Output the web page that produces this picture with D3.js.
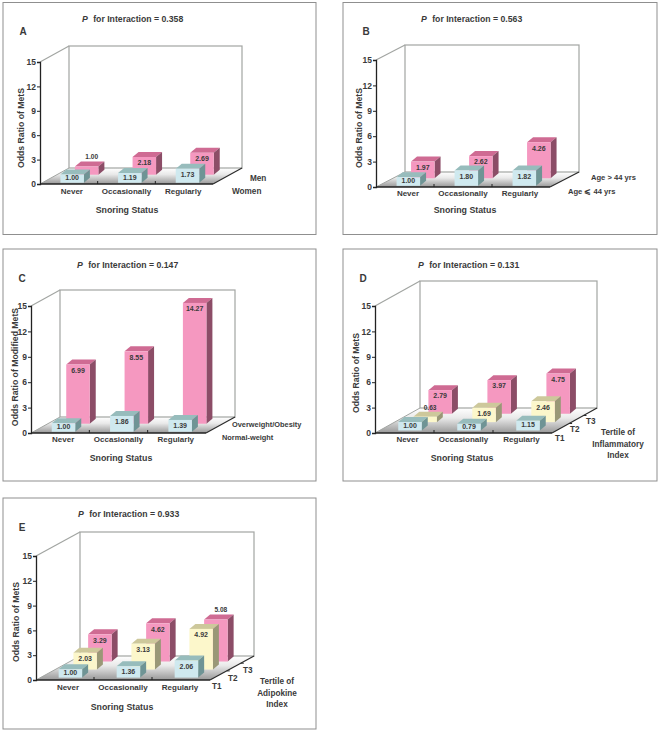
<!DOCTYPE html>
<html><head><meta charset="utf-8">
<style>
html,body{margin:0;padding:0;background:#fff}
svg{display:block}
text{font-family:"Liberation Sans",Arial,sans-serif;fill:#3a3a3a;font-weight:bold}
</style>
<script src="https://cdn.jsdelivr.net/npm/d3@7"></script>
</head><body>
<script>
// ---- data -------------------------------------------------------------
const snoringCategories = ["Never", "Occasionally", "Regularly"];
const yTicks = [0, 3, 6, 9, 12, 15];

const seriesA = ["Women", "Men"];
const valuesA = [[1.00, 1.19, 1.73], [1.00, 2.18, 2.69]];
const seriesB = ["Age \u2A7D 44 yrs", "Age > 44 yrs"];
const valuesB = [[1.00, 1.80, 1.82], [1.97, 2.62, 4.26]];
const seriesC = ["Normal-weight", "Overweight/Obesity"];
const valuesC = [[1.00, 1.86, 1.39], [6.99, 8.55, 14.27]];
const seriesD = ["T1", "T2", "T3"];
const valuesD = [[1.00, 0.79, 1.15], [0.63, 1.69, 2.46], [2.79, 3.97, 4.75]];
const seriesE = ["T1", "T2", "T3"];
const valuesE = [[1.00, 1.36, 2.06], [2.03, 3.13, 4.92], [3.29, 4.62, 5.08]];

// ---- layout of the five panels ----------------------------------------
const panels = [
 {id:"A", series:seriesA, values:valuesA, p:"0.358", yTitle:"Odds Ratio of MetS",
  box:[3,2.5,313,232], x0:40, x1:213, y0:184, yTop:62, dx:29, dy:-16, tY:20, tX:82, letter:[23,32], yT:[22,128], xT:[127,211], catY:192,
  depth:[.08,.58], outside:[[1,0]],
  legend:[[232,192],[250,179]]},
 {id:"B", series:seriesB, values:valuesB, p:"0.563", yTitle:"Odds Ratio of MetS",
  box:[343,2.5,314,232], x0:376, x1:550, y0:187, yTop:60, dx:29, dy:-15, tY:20, tX:421, letter:[366,32], yT:[360,128], xT:[465,211], catY:194,
  depth:[.08,.58], outside:[],
  legend:[[568,192],[591,178]], legendSize:7.6},
 {id:"C", series:seriesC, values:valuesC, p:"0.147", yTitle:"Odds Ratio of Modified MetS",
  box:[3,249,313,232], x0:31, x1:206, y0:433, yTop:306, dx:29, dy:-16, tY:266, tX:77, letter:[22,279], yT:[16,367], xT:[121,459], catY:440,
  depth:[.08,.58], outside:[],
  legend:[[222,438],[232,425]], legendSize:7.4},
 {id:"D", series:seriesD, values:valuesD, p:"0.131", yTitle:"Odds Ratio of MetS",
  box:[343,249,314,232], x0:375, x1:552, y0:433, yTop:306, dx:45, dy:-25, tY:266, tX:418, letter:[363,279], yT:[357,373], xT:[462,459], catY:440,
  depth:[.1,.77], outside:[[1,0]], depthTicks:true,
  legend:[[555,439],[570,430],[586,422]],
  tertile:["Tertile of","Inflammatory","Index"], tertileAt:[618,433,445,456]},
 {id:"E", series:seriesE, values:valuesE, p:"0.933", yTitle:"Odds Ratio of MetS",
  box:[3,498,313,231], x0:36, x1:210, y0:680, yTop:556, dx:44, dy:-24, tY:515, tX:78, letter:[22,528], yT:[17,622], xT:[122,708], catY:688,
  depth:[.1,.77], outside:[[2,2]], depthTicks:true,
  legend:[[212,687],[228,679],[243,671]],
  tertile:["Tertile of","Adipokine","Index"], tertileAt:[277,682,694,705]}
];

const palettes = [
  {front:"#cfe9ef", top:"#97bcbc", side:"#6f9495"},
  {front:"#f598c0", top:"#cf6b93", side:"#8c4d67"}
];
const palettes3 = [
  palettes[0],
  {front:"#fcf7cb", top:"#cdc89b", side:"#9a9877"},
  palettes[1]
];
const barW = 23.5, sideDx = 6, sideDy = -5;

const svg = d3.select("body").append("svg").attr("width",661).attr("height",733);
const defs = svg.append("defs");
const grad = defs.append("linearGradient").attr("id","floor").attr("x1",0).attr("x2",0).attr("y1",0).attr("y2",1);
grad.append("stop").attr("offset","0%").attr("stop-color","#ffffff");
grad.append("stop").attr("offset","40%").attr("stop-color","#e9e9e9");
grad.append("stop").attr("offset","100%").attr("stop-color","#989898");

panels.forEach(drawPanel);

function poly(g, pts, fill){ return g.append("polygon").attr("points",pts.map(p=>p.join(",")).join(" ")).attr("fill",fill); }

function drawPanel(P){
  const g = svg.append("g").attr("class","panel");
  g.append("rect").attr("x",P.box[0]).attr("y",P.box[1]).attr("width",P.box[2]).attr("height",P.box[3])
    .attr("fill","#fff").attr("stroke","#8f8f8f").attr("stroke-width",1);

  const x = d3.scaleBand().domain(snoringCategories).range([P.x0,P.x1]);
  const y = d3.scaleLinear().domain([0,15]).range([P.y0,P.yTop]);
  const z = d3.scalePoint().domain(P.series).range(P.depth);
  const pal = P.series.length===3 ? palettes3 : palettes;

  // floor
  poly(g, [[P.x0,P.y0],[P.x1,P.y0],[P.x1+P.dx,P.y0+P.dy],[P.x0+P.dx,P.y0+P.dy]], "url(#floor)");

  // back wall and left diagonals
  const wall = "#a2a5a2";
  g.append("rect").attr("x",P.x0+P.dx).attr("y",y(15)+P.dy).attr("width",P.x1-P.x0).attr("height",y(0)-y(15))
    .attr("fill","none").attr("stroke",wall).attr("stroke-width",1.2);
  g.append("line").attr("x1",P.x0).attr("y1",y(15)).attr("x2",P.x0+P.dx).attr("y2",y(15)+P.dy).attr("stroke",wall).attr("stroke-width",1.2);
  g.append("line").attr("x1",P.x0).attr("y1",y(0)).attr("x2",P.x0+P.dx).attr("y2",y(0)+P.dy).attr("stroke",wall).attr("stroke-width",1);

  // right floor edge
  g.append("line").attr("x1",P.x1).attr("y1",y(0)).attr("x2",P.x1+P.dx).attr("y2",y(0)+P.dy).attr("stroke","#2b2b2b").attr("stroke-width",1.2);
  if(P.depthTicks){
    [.38,.7].forEach(t=>{
      const tx=P.x1+P.dx*t, ty=y(0)+P.dy*t;
      g.append("line").attr("x1",tx).attr("y1",ty).attr("x2",tx+3).attr("y2",ty).attr("stroke","#2b2b2b").attr("stroke-width",1);
    });
  }

  // bars: back row first
  d3.range(P.series.length-1,-1,-1).forEach(si=>{
    const name = P.series[si], f = z(name);
    P.values[si].forEach((v,ci)=>{
      const cx = x(snoringCategories[ci]) + x.bandwidth()/2 + f*P.dx + 1;
      const bot = y(0) + f*P.dy;
      const h = y(0)-y(v);
      const L = cx-barW/2, R = cx+barW/2, T = bot-h;
      const c = pal[si];
      const bg = g.append("g").attr("class","bar");
      poly(bg, [[L,T],[R,T],[R+sideDx,T+sideDy],[L+sideDx,T+sideDy]], c.top);
      poly(bg, [[R,T],[R,bot],[R+sideDx,bot+sideDy],[R+sideDx,T+sideDy]], c.side);
      bg.append("rect").attr("x",L).attr("y",T).attr("width",barW).attr("height",h).attr("fill",c.front);
      const outside = P.outside.some(o=>o[0]===si&&o[1]===ci);
      const lx = outside ? cx+5 : cx;
      const ly = outside ? T+sideDy-4 : T+Math.min(h/2,6.5);
      bg.append("text").attr("x",lx).attr("y",ly).attr("text-anchor","middle").attr("dominant-baseline","middle")
        .attr("font-size",outside?6.6:7).text(v.toFixed(2));
    });
  });

  // axes
  const yAxis = d3.axisLeft(y).tickValues(yTicks).tickSize(3).tickPadding(1);
  const ya = g.append("g").attr("transform",`translate(${P.x0},0)`).call(yAxis);
  ya.select(".domain").attr("stroke","#222").attr("stroke-width",1.3);
  ya.selectAll(".tick line").attr("stroke","#222");
  ya.selectAll(".tick text").attr("font-size",8.5).attr("font-family",null).style("fill","#3a3a3a");

  g.append("line").attr("x1",P.x0).attr("x2",P.x1).attr("y1",y(0)).attr("y2",y(0)).attr("stroke","#222").attr("stroke-width",1.6);
  const bw = x.bandwidth();
  [1,2].forEach(i=>{
    const tx = P.x0+bw*i;
    g.append("line").attr("x1",tx).attr("x2",tx).attr("y1",y(0)).attr("y2",y(0)-3).attr("stroke","#222").attr("stroke-width",1);
  });

  // category labels
  const catNudge = [3,0,-1];
  snoringCategories.forEach((c,i)=>{
    g.append("text").attr("x",x(c)+bw/2+catNudge[i]).attr("y",P.catY).attr("text-anchor","middle").attr("dominant-baseline","middle")
      .attr("font-size",8).text(c);
  });

  // titles
  const t = g.append("text").attr("x",P.tX).attr("y",P.tY).attr("dominant-baseline","middle").attr("font-size",8.7);
  t.append("tspan").attr("font-style","italic").attr("font-weight","bold").text("P");
  t.append("tspan").attr("dx",3).text(" for Interaction = "+P.p);
  g.append("text").attr("x",P.letter[0]).attr("y",P.letter[1]).attr("text-anchor","middle").attr("dominant-baseline","middle").attr("font-size",10).text(P.id);
  g.append("text").attr("text-anchor","middle").attr("dominant-baseline","middle").attr("font-size",8.7)
    .attr("transform",`translate(${P.yT[0]},${P.yT[1]}) rotate(-90)`).text(P.yTitle);
  g.append("text").attr("x",P.xT[0]).attr("y",P.xT[1]).attr("text-anchor","middle").attr("dominant-baseline","middle").attr("font-size",8.8).text("Snoring Status");

  // depth labels
  P.series.forEach((s,i)=>{
    g.append("text").attr("x",P.legend[i][0]).attr("y",P.legend[i][1]).attr("dominant-baseline","middle")
      .attr("font-size",P.legendSize||8.2).attr("font-family",'"Liberation Sans","DejaVu Sans",sans-serif').text(s);
  });
  if(P.tertile){
    P.tertile.forEach((s,i)=>{
      g.append("text").attr("x",P.tertileAt[0]).attr("y",P.tertileAt[i+1]).attr("text-anchor","middle").attr("dominant-baseline","middle").attr("font-size",8.2).text(s);
    });
  }
}
</script>
</body></html>
